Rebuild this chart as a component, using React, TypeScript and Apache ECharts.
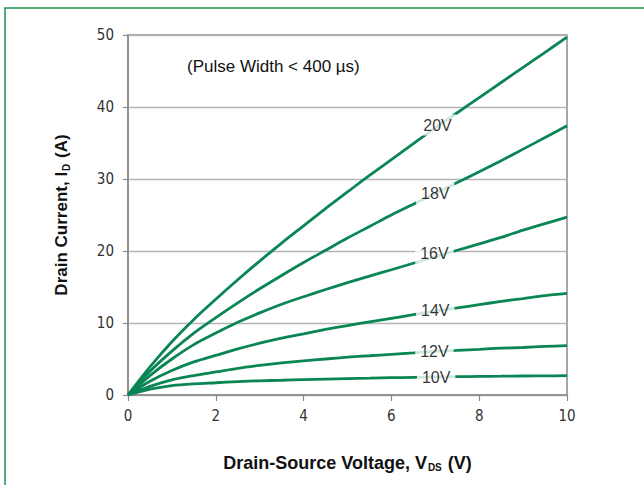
import React, { useEffect, useRef } from "react";
import * as echarts from "echarts";

const vds = [0, 0.5, 1, 1.5, 2, 2.5, 3, 3.5, 4, 4.5, 5, 5.5, 6, 6.5, 7, 7.5, 8, 8.5, 9, 9.5, 10];
const id20 = [0, 3.9, 7.4, 10.5, 13.3, 16.0, 18.6, 21.1, 23.5, 25.9, 28.2, 30.5, 32.7, 34.9, 37.1, 39.2, 41.3, 43.4, 45.5, 47.6, 49.7];
const id18 = [0, 3.3, 6.1, 8.6, 10.75, 12.8, 14.75, 16.6, 18.4, 20.1, 21.8, 23.4, 25.0, 26.5, 28.0, 29.5, 31.0, 32.55, 34.15, 35.75, 37.4];
const id16 = [0, 2.7, 5.0, 7.0, 8.6, 10.1, 11.4, 12.6, 13.65, 14.65, 15.6, 16.5, 17.4, 18.3, 19.2, 20.1, 21.0, 21.9, 22.9, 23.8, 24.7];
const id14 = [0, 1.9, 3.4, 4.6, 5.5, 6.4, 7.2, 7.9, 8.5, 9.1, 9.65, 10.15, 10.65, 11.15, 11.65, 12.1, 12.55, 13.0, 13.4, 13.8, 14.1];
const id12 = [0, 1.2, 2.1, 2.7, 3.2, 3.7, 4.1, 4.45, 4.75, 5.0, 5.25, 5.45, 5.65, 5.85, 6.05, 6.2, 6.35, 6.5, 6.6, 6.75, 6.85];
const id10 = [0, 0.8, 1.3, 1.55, 1.7, 1.85, 1.97, 2.05, 2.13, 2.2, 2.27, 2.33, 2.4, 2.45, 2.5, 2.54, 2.58, 2.61, 2.64, 2.66, 2.68];

const curveNames = ["20V", "18V", "16V", "14V", "12V", "10V"];
const curves = [id20, id18, id16, id14, id12, id10];
const labelVds = [7.05, 7.0, 6.98, 7.0, 6.98, 7.02];
const labelIds = [37.5, 28.0, 19.7, 11.8, 6.1, 2.5];

const xTicks = [0, 2, 4, 6, 8, 10];
const yTicks = [0, 10, 20, 30, 40, 50];

const GREEN = "#0a8554";
const narrow = "'DejaVu Sans Condensed', sans-serif";
const sans = "'Liberation Sans', Arial, sans-serif";

export default function App() {
  const ref = useRef<HTMLDivElement>(null);
  useEffect(() => {
    if (!ref.current) return;
    const chart = echarts.init(ref.current, undefined, { renderer: "svg" });
    const lineSeries = curves.map((c, k) => ({
      type: "line",
      name: curveNames[k],
      data: vds.map((v, i) => [v, c[i]]),
      smooth: 0.3,
      showSymbol: false,
      symbol: "none",
      lineStyle: { color: GREEN, width: 2.8 },
      z: 3,
    }));
    const labelSeries = {
      type: "scatter",
      data: curveNames.map((n, k) => [labelVds[k], labelIds[k], n]),
      symbolSize: 1,
      itemStyle: { color: "transparent" },
      z: 10,
      label: {
        show: true,
        position: "inside",
        formatter: (p: any) => p.value[2],
        backgroundColor: "#ffffff",
        padding: [3, 5, 2, 5],
        color: "#000000",
        textBorderWidth: 0,
        fontSize: 16,
        fontFamily: sans,
      },
    };
    chart.setOption({
      animation: false,
      backgroundColor: "#ffffff",
      grid: {
        left: 128,
        right: 77,
        top: 35,
        bottom: 90,
        show: true,
        borderColor: "#8a8a8a",
        borderWidth: 1.5,
        backgroundColor: "transparent",
      },
      xAxis: {
        type: "value",
        min: 0,
        max: 10,
        interval: 2,
        splitLine: { show: false },
        axisLine: { show: true, lineStyle: { color: "#8a8a8a", width: 1.5 } },
        axisTick: { show: true, length: 6, lineStyle: { color: "#8a8a8a", width: 1.2 } },
        axisLabel: {
          margin: 13,
          color: "#333",
          fontSize: 15,
          fontFamily: narrow,
          customValues: xTicks,
        },
        name: "{b|Drain-Source Voltage, V}{s|DS}{b| (V)}",
        nameLocation: "middle",
        nameGap: 58,
        nameTextStyle: {
          rich: {
            b: { fontSize: 18, fontWeight: "bold", fontFamily: sans, color: "#111" },
            s: { fontSize: 10, fontWeight: "bold", fontFamily: sans, color: "#111", verticalAlign: "bottom", padding: [9, 1, 0, 1] },
          },
        },
      },
      yAxis: {
        type: "value",
        min: 0,
        max: 50,
        interval: 10,
        splitLine: { show: true, lineStyle: { color: "#b5b5b5", width: 1.3 } },
        axisLine: { show: true, lineStyle: { color: "#8a8a8a", width: 1.5 } },
        axisTick: { show: true, length: 5, lineStyle: { color: "#8a8a8a", width: 1.2 } },
        axisLabel: {
          margin: 14,
          color: "#333",
          fontSize: 15,
          fontFamily: narrow,
          customValues: yTicks,
        },
        name: "{b|Drain Current, I}{s|D}{b| (A)}",
        nameLocation: "middle",
        nameGap: 57,
        nameRotate: 90,
        nameTextStyle: {
          rich: {
            b: { fontSize: 17, fontWeight: "bold", fontFamily: sans, color: "#111" },
            s: { fontSize: 10, fontWeight: "bold", fontFamily: sans, color: "#111", verticalAlign: "bottom", padding: [9, 1, 0, 1] },
          },
        },
      },
      graphic: [
        {
          type: "rect",
          shape: { x: 5, y: 8, width: 700, height: 600 },
          style: { fill: "none", stroke: "#1f9352", lineWidth: 1.5 },
          silent: true,
        },
        {
          type: "text",
          x: 187,
          y: 66,
          style: {
            text: "(Pulse Width < 400 µs)",
            fill: "#111",
            fontSize: 17,
            fontFamily: sans,
            verticalAlign: "middle",
            textAlign: "left",
          },
        },
      ],
      series: [...lineSeries, labelSeries],
    });
    return () => chart.dispose();
  }, []);
  return (
    <div
      ref={ref}
      style={{ position: "fixed", left: 0, top: 0, width: 644, height: 485, background: "#fff" }}
    />
  );
}
